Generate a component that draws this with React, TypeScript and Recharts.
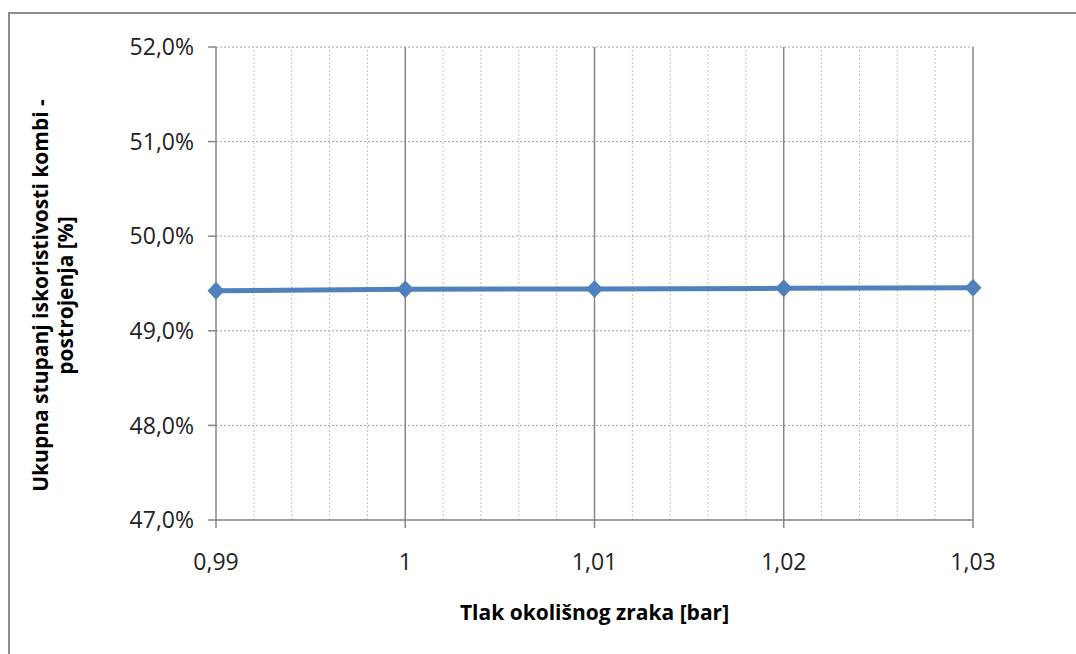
import React from 'react';
import { LineChart, Line, XAxis, YAxis, CartesianGrid, ReferenceLine } from 'recharts';

const pressure = [0.99, 1.0, 1.01, 1.02, 1.03];
const efficiency = [49.424, 49.439, 49.442, 49.449, 49.456];
const xTicks = [0.99, 1.0, 1.01, 1.02, 1.03];
const yTicks = [47, 48, 49, 50, 51, 52];
const minorX = [
  0.992, 0.994, 0.996, 0.998,
  1.002, 1.004, 1.006, 1.008,
  1.012, 1.014, 1.016, 1.018,
  1.022, 1.024, 1.026, 1.028,
];
const majorX = [1.0, 1.01, 1.02, 1.03];

const data = pressure.map((p, i) => ({ p, eff: efficiency[i] }));

const font = '"Open Sans", sans-serif';
const axisColor = '#868686';
const blue = '#4f81bd';

const fmtX = (v: number) => String(Number(v.toFixed(2))).replace('.', ',');
const fmtY = (v: number) => v.toFixed(1).replace('.', ',') + '%';

const Diamond = (props: any) => {
  const { cx, cy } = props;
  if (cx == null || cy == null) return null;
  return <path d={`M${cx},${cy - 9} L${cx + 8.5},${cy} L${cx},${cy + 9} L${cx - 8.5},${cy} Z`} fill={blue} />;
};

const YTitle = (props: any) => {
  const { viewBox } = props;
  const cy = viewBox.y + viewBox.height / 2 + 12;
  return (
    <g>
      <text
        transform={`translate(48, ${cy}) rotate(-90)`}
        textAnchor="middle"
        fontFamily={font}
        fontWeight="bold"
        fontSize={21}
        fill="#000"
      >
        Ukupna stupanj iskoristivosti kombi -
      </text>
      <text
        transform={`translate(73, ${cy}) rotate(-90)`}
        textAnchor="middle"
        fontFamily={font}
        fontWeight="bold"
        fontSize={21}
        fill="#000"
      >
        postrojenja [%]
      </text>
    </g>
  );
};

export default function App() {
  return (
    <div style={{ position: 'absolute', left: 0, top: 0, width: 1076, height: 654, background: '#fff' }}>
      <div
        style={{
          position: 'absolute',
          left: 8,
          top: 12,
          width: 1076,
          height: 660,
          borderLeft: '2px solid #8c8c8c',
          borderTop: '2px solid #8c8c8c',
        }}
      />
      <div style={{ position: 'absolute', left: 0, top: 0 }}>
        <LineChart width={1076} height={654} data={data} margin={{ top: 47, right: 103, left: 0, bottom: 0 }}>
          <CartesianGrid vertical={false} stroke="#a0a0a0" strokeDasharray="2 2" />
          {minorX.map((x) => (
            <ReferenceLine key={'m' + x} x={x} stroke="#c0c0c0" strokeDasharray="2 2" />
          ))}
          {majorX.map((x) => (
            <ReferenceLine key={'M' + x} x={x} stroke={axisColor} strokeWidth={1.5} />
          ))}
          <XAxis
            dataKey="p"
            type="number"
            domain={[0.99, 1.03]}
            ticks={xTicks}
            tickFormatter={fmtX}
            height={134}
            stroke={axisColor}
            strokeWidth={1.5}
            tickSize={8}
            tickMargin={26}
            tick={{ fill: '#222', fontFamily: font, fontSize: 23 }}
            label={{
              value: 'Tlak okolišnog zraka [bar]',
              position: 'insideBottom',
              offset: 34,
              fill: '#000',
              fontFamily: font,
              fontWeight: 'bold',
              fontSize: 21,
            }}
          />
          <YAxis
            type="number"
            domain={[47, 52]}
            ticks={yTicks}
            tickFormatter={fmtY}
            width={216}
            stroke={axisColor}
            strokeWidth={1.5}
            tickSize={8}
            tickMargin={14}
            tick={{ fill: '#222', fontFamily: font, fontSize: 23 }}
            label={{ content: YTitle }}
          />
          <Line
            type="linear"
            dataKey="eff"
            stroke={blue}
            strokeWidth={5}
            dot={<Diamond />}
            activeDot={false}
            isAnimationActive={false}
          />
        </LineChart>
      </div>
    </div>
  );
}
